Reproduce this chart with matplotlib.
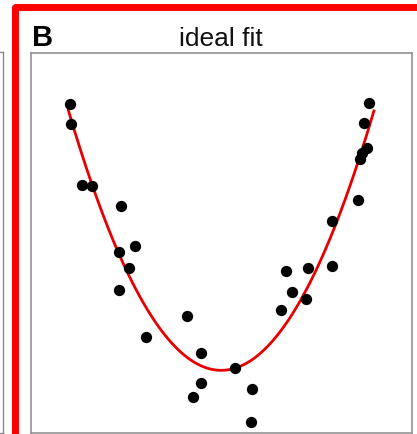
import numpy as np
import matplotlib
matplotlib.use("Agg")
import matplotlib.pyplot as plt
from matplotlib.patches import Rectangle

# Observations
x_obs = [1.03, 1.05, 1.34, 1.60, 2.37, 2.72, 2.30, 2.58, 2.32, 3.01,
         4.09, 4.46, 5.36, 4.46, 4.24, 5.79, 5.77, 6.56, 6.70, 6.85,
         7.23, 7.27, 7.89, 7.91, 8.57, 8.64, 8.69, 8.81, 8.75, 8.86]
y_obs = [8.65, 8.12, 6.53, 6.50, 5.98, 4.93, 4.76, 4.35, 3.77, 2.52,
         3.08, 2.11, 1.72, 1.31, 0.94, 1.16, 0.30, 3.24, 4.26, 3.71,
         3.53, 4.35, 4.40, 5.57, 6.13, 7.21, 7.37, 7.51, 8.15, 8.69]

panel_label = "B"
panel_title = "ideal fit"

W, H = 417, 434
fig = plt.figure(figsize=(W / 100, H / 100), dpi=100)
plt.rcParams['font.family'] = ['Liberation Sans', 'DejaVu Sans']


def fx(px):
    return px / W


def fy(py):
    return 1 - py / H


# Edge of the neighbouring panel on the left
ax_left = fig.add_axes([fx(-200), fy(433), fx(203), fy(52) - fy(433)])
ax_left.set_xticks([])
ax_left.set_yticks([])
for s in ax_left.spines.values():
    s.set_color('#8a8a8a')
    s.set_linewidth(1.0)

# Main panel
ax = fig.add_axes([fx(31), fy(433), fx(412) - fx(31), fy(53) - fy(433)])
ax.set_xlim(0, 10)
ax.set_ylim(0, 10)
ax.set_xticks([])
ax.set_yticks([])
for s in ax.spines.values():
    s.set_color('#8a8a8a')
    s.set_linewidth(1.1)

# Quadratic fit through the observations
coef = np.polyfit(x_obs, y_obs, 2)
xs = np.linspace(0.98, 9.0, 300)
ax.plot(xs, np.polyval(coef, xs), color='#e80000', lw=2.0, zorder=2)
ax.scatter(x_obs, y_obs, s=66, color='black', zorder=3, linewidths=0)

fig.text(fx(221), fy(45.7), panel_title, ha='center', va='baseline',
         fontsize=19, color='#111111')
fig.text(fx(31.5), fy(45.7), panel_label, ha='left', va='baseline',
         fontsize=21, fontweight='bold', color='black')

# Highlight frame around the panel
frame = Rectangle((fx(15), fy(480)), fx(480) - fx(15), fy(6.5) - fy(480),
                  transform=fig.transFigure, fill=False, edgecolor='#ff0000',
                  linewidth=5.0, joinstyle='round', clip_on=False)
fig.patches.append(frame)

fig.savefig("out.png", dpi=100)
